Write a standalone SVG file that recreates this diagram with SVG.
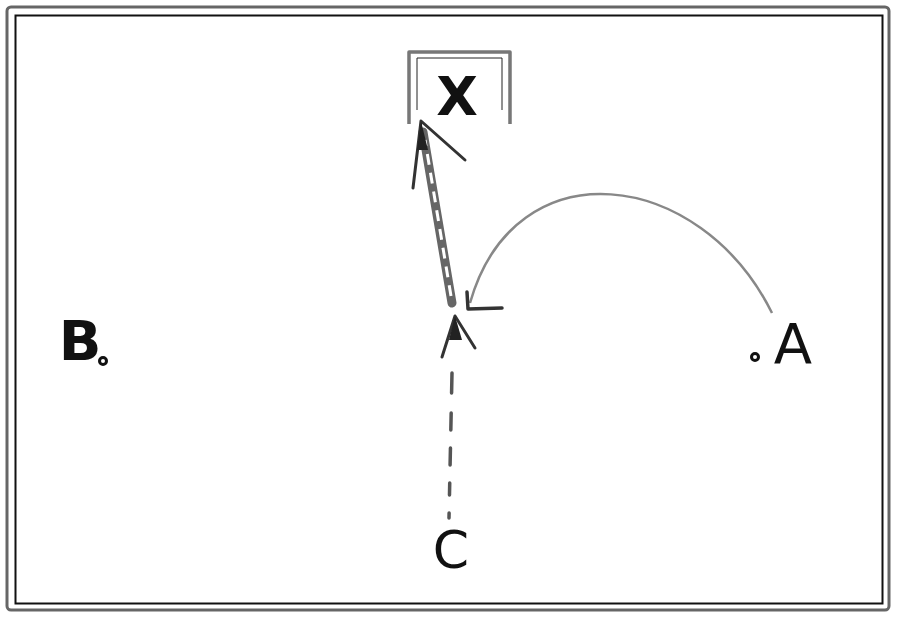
<svg xmlns="http://www.w3.org/2000/svg" width="900" height="620" viewBox="0 0 900 620">
<style>
.lbl{font-family:"DejaVu Sans","Liberation Sans",sans-serif;fill:#111;text-anchor:middle}
.pt{fill:#fff;stroke:#111;stroke-width:3}
.arw{fill:none;stroke:#333;stroke-linecap:round;stroke-linejoin:round}
</style>
<rect width="900" height="620" fill="#fff"/>
<g id="frame">
<rect x="7" y="7" width="882" height="603" rx="4" fill="none" stroke="#666" stroke-width="3"/>
<rect x="15.5" y="15.5" width="867" height="588" fill="none" stroke="#111" stroke-width="2"/>
</g>
<g id="nodeX">
<path d="M409,124 V52 H510 V124" fill="none" stroke="#777" stroke-width="3.5" stroke-linejoin="round"/>
<path d="M417,110 V58 H502 V110" fill="none" stroke="#222" stroke-width="1"/>
<text class="lbl" x="457" y="115" font-size="54" font-weight="bold">X</text>
</g>
<g id="nodeB">
<text class="lbl" x="80" y="360" font-size="56" font-weight="bold">B</text>
<circle class="pt" cx="103" cy="361" r="3.5"/>
</g>
<g id="nodeA">
<text class="lbl" x="793" y="363" font-size="56" font-weight="500">A</text>
<circle class="pt" cx="755" cy="357" r="3.5"/>
</g>
<g id="nodeC">
<text class="lbl" x="451" y="568" font-size="52">C</text>
</g>
<g id="connectors">
<!-- dashed from C to meeting point -->
<path d="M452,373 L449,518" fill="none" stroke="#555" stroke-width="3.5" stroke-dasharray="20 20 17 18 17 18 12 18 5 40" stroke-linecap="round"/>
<path d="M442,357 L455,316 L475,348" class="arw" stroke-width="3"/>
<path d="M449,340 L455,316 L462,340 Z" fill="#222"/>
<!-- curve from A -->
<path d="M772,313 C700,168 515,145 470,303" fill="none" stroke="#888" stroke-width="2.5"/>
<path d="M467,292 L468,309 L502,308" class="arw" stroke-width="3.5"/>
<!-- chain from meeting point to X -->
<path d="M452,303 L423,132" fill="none" stroke="#666" stroke-width="9" stroke-linecap="round"/>
<path d="M451,296 L425,140" fill="none" stroke="#fff" stroke-width="3" stroke-dasharray="11 8"/>
<path d="M413,188 L421,121 L465,160" class="arw" stroke="#777" stroke-width="3"/>
<path d="M417,150 L421,121 L428,150 Z" fill="#222"/>
</g>
</svg>
